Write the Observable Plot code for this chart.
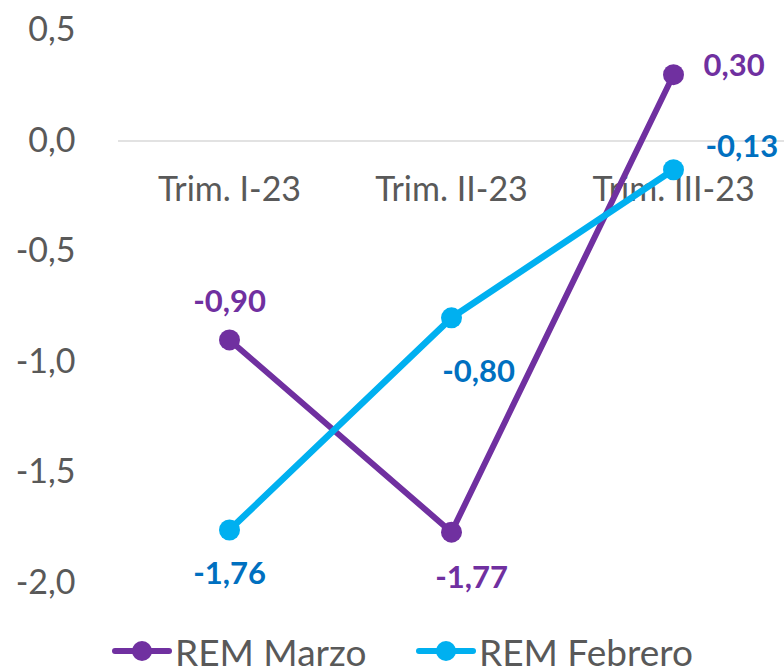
<!DOCTYPE html>
<html><head><meta charset="utf-8">
<script src="https://cdn.jsdelivr.net/npm/d3@7"></script>
<script src="https://cdn.jsdelivr.net/npm/@observablehq/plot@0.6"></script>
<style>
  body{margin:0;background:#fff;font-family:Lato,"Open Sans",sans-serif;}
  #wrap{width:784px;height:672px;position:relative;overflow:hidden;}
  #legend{position:relative;height:42px;width:784px;}
  .item{position:absolute;top:0;height:42px;display:flex;align-items:center;color:#595959;font-size:37px;white-space:nowrap;}
  .item svg{display:block;margin-right:3px;}
</style></head>
<body><div id="wrap"><div id="chart"></div><div id="legend"></div></div>
<script>
// ---- data ----
const categories = ["Trim. I-23", "Trim. II-23", "Trim. III-23"];
const remMarzo = [-0.90, -1.77, 0.30];
const remFebrero = [-1.76, -0.80, -0.13];
const seriesNames = ["REM Marzo", "REM Febrero"];
const yTicks = [0.5, 0, -0.5, -1.0, -1.5, -2.0];

// ---- styles ----
const lineColors = ["#7030A0", "#00B0F0"];
const labelColors = ["#7030A0", "#0070C0"];
// label placement per series/category: [dx, dy, anchor]
const labelPlacement = [
  [[0, -38, "middle"], [20, 46, "middle"], [30, -9, "start"]],
  [[0, 44, "middle"], [27, 54, "middle"], [32, -23, "start"]]
];

const seriesValues = [remMarzo, remFebrero];
const rows = [];
seriesNames.forEach((s, i) => categories.forEach((c, j) =>
  rows.push({series: s, si: i, cat: c, ci: j, value: seriesValues[i][j]})));

const fmt = (d, n) => d.toFixed(n).replace(".", ",");

const labelMarks = [];
rows.forEach(r => {
  const [dx, dy, anchor] = labelPlacement[r.si][r.ci];
  labelMarks.push(Plot.text([r], {
    x: "cat", y: "value", text: d => fmt(d.value, 2),
    dx, dy, textAnchor: anchor, fill: labelColors[r.si],
    fontSize: 31, fontWeight: "bold"
  }));
});

const chart = Plot.plot({
  width: 784, height: 630,
  marginLeft: 118, marginRight: 0, marginTop: 30, marginBottom: 47.5,
  style: {fontFamily: "Lato, 'Open Sans', sans-serif", background: "#fff", overflow: "visible"},
  x: {type: "band", domain: categories, padding: 0, axis: null},
  y: {domain: [-2, 0.5]},
  color: {domain: seriesNames, range: lineColors},
  marks: [
    Plot.ruleY([0], {stroke: "#d9d9d9", strokeWidth: 1.5}),
    Plot.axisY({ticks: yTicks, tickSize: 0, tickPadding: 43, tickFormat: d => fmt(d, 1),
      fontSize: 34, fill: "#595959", label: null}),
    Plot.text(categories, {x: d => d, y: () => 0, dy: 49, fontSize: 34, fill: "#595959"}),
    Plot.line(rows.filter(d => d.si === 0), {x: "cat", y: "value", stroke: lineColors[0], strokeWidth: 6}),
    Plot.dot(rows.filter(d => d.si === 0), {x: "cat", y: "value", fill: lineColors[0], r: 10.5}),
    Plot.line(rows.filter(d => d.si === 1), {x: "cat", y: "value", stroke: lineColors[1], strokeWidth: 6.5}),
    Plot.dot(rows.filter(d => d.si === 1), {x: "cat", y: "value", fill: lineColors[1], r: 10.5}),
    ...labelMarks
  ]
});
document.getElementById("chart").appendChild(chart);

// ---- legend ----
const legendLeft = [112, 416];
const legend = document.getElementById("legend");
seriesNames.forEach((s, i) => {
  const item = document.createElement("div");
  item.className = "item";
  item.style.left = legendLeft[i] + "px";
  item.innerHTML = `<svg width="60" height="24"><line x1="3" y1="12" x2="57" y2="12" stroke="${lineColors[i]}" stroke-width="6" stroke-linecap="round"/><circle cx="30" cy="12" r="10" fill="${lineColors[i]}"/></svg><span>${s}</span>`;
  legend.appendChild(item);
});
</script>
</body></html>
